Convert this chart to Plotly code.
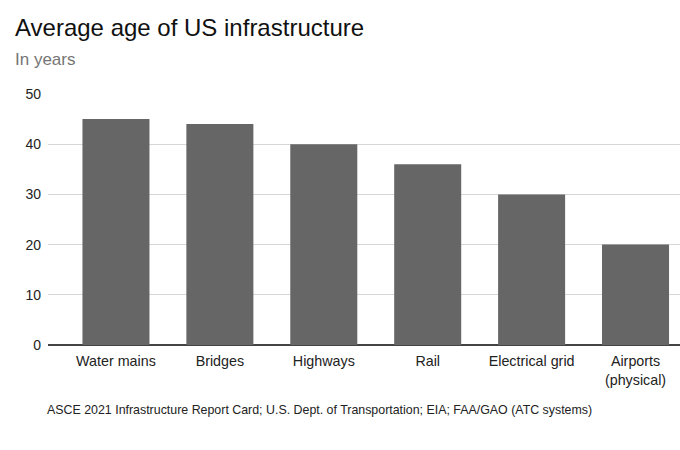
import plotly.graph_objects as go

categories = ["Water mains", "Bridges", "Highways", "Rail", "Electrical grid", "Airports<br>(physical)"]
avg_age = [45, 44, 40, 36, 30, 20]
y_ticks = [0, 10, 20, 30, 40, 50]

font = "Arial, Liberation Sans, sans-serif"

W, H = 680, 450
L, R, T, B = 48, 0, 94, 105

fig = go.Figure()
fig.add_trace(go.Bar(
    x=categories, y=avg_age,
    marker=dict(color="#666666", line=dict(width=0)),
    width=0.645,
))

fig.update_layout(
    width=W, height=H,
    margin=dict(l=L, r=R, t=T, b=B),
    paper_bgcolor="white", plot_bgcolor="white",
    font=dict(family=font, size=14, color="#222222"),
    showlegend=False,
)

# helpers to place text by pixel position
plot_h = H - T - B
def py(ypix):
    return (H - B - ypix) / plot_h
def px_(xpix):
    return (xpix - L) / (W - L - R)

fig.add_annotation(text="Average age of US infrastructure", xref="paper", yref="paper",
                   x=px_(13), y=py(27), xanchor="left", yanchor="middle", showarrow=False,
                   font=dict(size=24, color="#111111"))
fig.add_annotation(text="In years", xref="paper", yref="paper",
                   x=px_(13), y=py(60), xanchor="left", yanchor="middle", showarrow=False,
                   font=dict(size=17, color="#757575"))
fig.add_annotation(text="ASCE 2021 Infrastructure Report Card; U.S. Dept. of Transportation; EIA; FAA/GAO (ATC systems)",
                   xref="paper", yref="paper",
                   x=px_(45), y=py(410), xanchor="left", yanchor="middle", showarrow=False,
                   font=dict(size=12.4, color="#222222"))

fig.update_xaxes(range=[-0.654, 5.428], showgrid=False, showline=False, ticks="",
                 ticklabelstandoff=6, tickfont=dict(size=14.3, color="#222222"))
fig.update_yaxes(range=[0, 50], tickvals=y_ticks, showgrid=True, gridcolor="#d6d6d6", gridwidth=1,
                 zeroline=True, zerolinecolor="#444444", zerolinewidth=1.5,
                 showline=False, ticks="", ticklabelstandoff=6,
                 tickfont=dict(size=14, color="#222222"))

fig.write_html("out.html", config={"displayModeBar": False},
               post_script="document.body.style.margin='0';")
